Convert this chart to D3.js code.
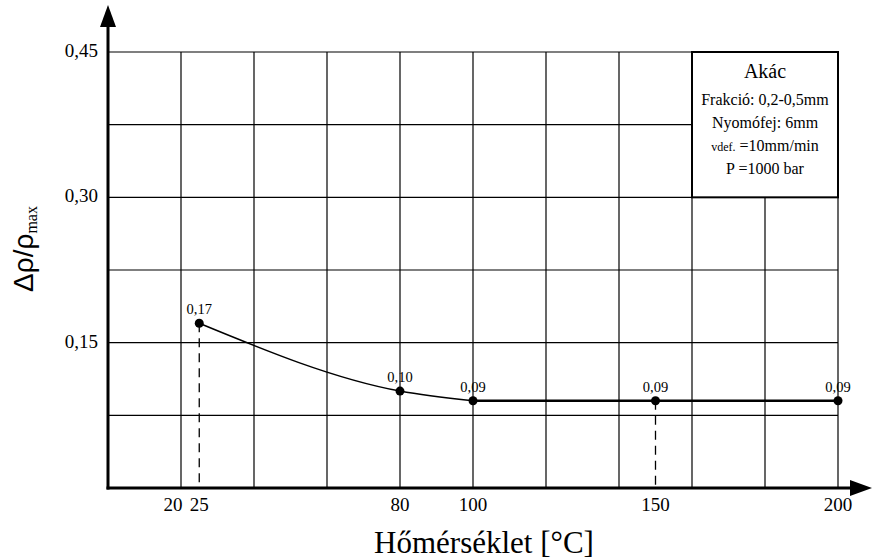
<!DOCTYPE html>
<html lang="hu">
<head>
    <meta charset="UTF-8">
    <title>Akác</title>
    <script src="https://cdn.jsdelivr.net/npm/d3@7"></script>
    <style>
        body { margin: 0; background: #fff; }
    </style>
</head>
<body>
<script>
    // adatok
    var temps = [25, 80, 100, 150, 200];
    var values = [0.17, 0.10, 0.09, 0.09, 0.09];
    var valueLabels = ["0,17", "0,10", "0,09", "0,09", "0,09"];
    var xTicks = [20, 25, 80, 100, 150, 200];
    var yTicks = [0.15, 0.30, 0.45];
    var dashedAt = [25, 150];
    var legendLines = ["Frakció: 0,2-0,5mm", "Nyomófej: 6mm", "", "P =1000 bar"];

    var SERIF = "'Liberation Serif', 'Times New Roman', 'DejaVu Serif', serif";
    var SANS = "'Liberation Sans', Arial, sans-serif";

    var W = 872, H = 560;
    var svg = d3.select("body").append("svg").attr("width", W).attr("height", H);

    var x = d3.scaleLinear().domain([0, 200]).range([108, 838]);
    var y = d3.scaleLinear().domain([0, 0.45]).range([488, 52]);
    var fmt = function (d) { return d3.format(".2f")(d).replace(".", ","); };

    function txt(px, py, size, anchor) {
        return svg.append("text").attr("x", px).attr("y", py).attr("font-size", size)
            .attr("font-family", SERIF).attr("text-anchor", anchor || "middle").attr("fill", "#000");
    }

    // racs
    var g = svg.append("g");
    d3.range(20, 201, 20).forEach(function (v) {
        g.append("line").attr("x1", x(v)).attr("x2", x(v)).attr("y1", y(0.45)).attr("y2", y(0))
            .attr("stroke", "#000").attr("stroke-width", 1.2);
    });
    d3.range(1, 7).forEach(function (i) {
        var v = i * 0.075;
        g.append("line").attr("x1", x(0)).attr("x2", x(200)).attr("y1", y(v)).attr("y2", y(v))
            .attr("stroke", "#000").attr("stroke-width", 1.2);
    });

    // jelmagyarazat doboz
    var bx = x(160), by = y(0.45), bw = x(200) - x(160), bh = y(0.30) - y(0.45);
    svg.append("rect").attr("x", bx).attr("y", by).attr("width", bw).attr("height", bh)
        .attr("fill", "#fff").attr("stroke", "#000").attr("stroke-width", 2);
    txt(bx + bw / 2, by + 26, 20).text("Akác");
    legendLines.forEach(function (t, i) {
        var tx = txt(bx + bw / 2, by + 53 + i * 23, 16);
        if (t === "") {
            tx.append("tspan").attr("font-size", 12).text("vdef.");
            tx.append("tspan").text(" =10mm/min");
        } else {
            tx.text(t);
        }
    });

    // szaggatott vonalak
    dashedAt.forEach(function (t) {
        var v = values[temps.indexOf(t)];
        svg.append("line").attr("x1", x(t)).attr("x2", x(t)).attr("y1", y(v)).attr("y2", y(0))
            .attr("stroke", "#000").attr("stroke-width", 1.3).attr("stroke-dasharray", "9,6");
    });

    // gorbe
    var pts = temps.map(function (t, i) { return [t, values[i]]; });
    var curve = d3.line().curve(d3.curveMonotoneX)
        .x(function (d) { return x(d[0]); }).y(function (d) { return y(d[1]); });
    svg.append("path").attr("d", curve(pts.slice(0, 3))).attr("fill", "none")
        .attr("stroke", "#000").attr("stroke-width", 1.5);
    var straight = d3.line().x(function (d) { return x(d[0]); }).y(function (d) { return y(d[1]); });
    svg.append("path").attr("d", straight(pts.slice(2))).attr("fill", "none")
        .attr("stroke", "#000").attr("stroke-width", 2.6);

    svg.selectAll("circle.pt").data(pts).enter().append("circle").attr("class", "pt")
        .attr("cx", function (d) { return x(d[0]); }).attr("cy", function (d) { return y(d[1]); })
        .attr("r", 4.5).attr("fill", "#000");
    pts.forEach(function (d, i) {
        txt(x(d[0]), y(d[1]) - 9, 14.5).text(valueLabels[i]);
    });

    // tengelyek
    svg.append("line").attr("x1", x(0)).attr("x2", x(0)).attr("y1", y(0) + 1.5).attr("y2", 22)
        .attr("stroke", "#000").attr("stroke-width", 3);
    svg.append("path").attr("d", "M" + x(0) + ",5 L" + (x(0) - 8) + ",27 L" + (x(0) + 8) + ",27 Z")
        .attr("fill", "#000");
    svg.append("line").attr("x1", x(0) - 1.5).attr("x2", 852).attr("y1", y(0)).attr("y2", y(0))
        .attr("stroke", "#000").attr("stroke-width", 3);
    svg.append("path").attr("d", "M872," + y(0) + " L850," + (y(0) - 8) + " L850," + (y(0) + 8) + " Z")
        .attr("fill", "#000");

    // tengelyfeliratok
    var xt = {20: -8, 25: 0};
    xTicks.forEach(function (t) {
        txt(x(t) + (xt[t] || 0), y(0) + 23, 19).text(t);
    });
    yTicks.forEach(function (v) {
        txt(x(0) - 10, y(v) + 5, 19, "end").text(fmt(v));
    });

    txt(484, 553, 31).text("Hőmérséklet [°C]");

    var yl = svg.append("text").attr("transform", "translate(33,249) rotate(-90)")
        .attr("text-anchor", "middle").attr("font-family", SANS)
        .attr("font-size", 28).attr("fill", "#000");
    yl.append("tspan").text("Δρ/ρ");
    yl.append("tspan").attr("font-family", SERIF).attr("font-size", 16).attr("dy", 4).text("max");
</script>
</body>
</html>
